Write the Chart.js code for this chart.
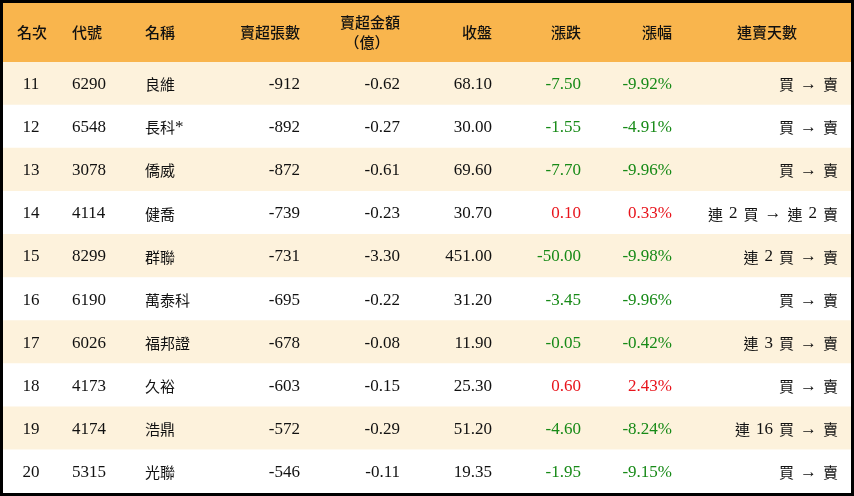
<!DOCTYPE html>
<html><head><meta charset="utf-8">
<script src="https://cdn.jsdelivr.net/npm/chart.js@4/dist/chart.umd.min.js"></script>
<style>html,body{margin:0;padding:0;background:#fff}#w{width:854px;height:496px;position:relative}</style>
</head><body><div id="w"><canvas id="c"></canvas></div>
<script>
const headers = ["名次","代號","名稱","賣超張數","賣超金額\n（億）","收盤","漲跌","漲幅","連賣天數"];
const ranks = ["11","12","13","14","15","16","17","18","19","20"];
const codes = ["6290","6548","3078","4114","8299","6190","6026","4173","4174","5315"];
const names = ["良維","長科*","僑威","健喬","群聯","萬泰科","福邦證","久裕","浩鼎","光聯"];
const netSell = [-912,-892,-872,-739,-731,-695,-678,-603,-572,-546];
const amount = ["-0.62","-0.27","-0.61","-0.23","-3.30","-0.22","-0.08","-0.15","-0.29","-0.11"];
const closeP = ["68.10","30.00","69.60","30.70","451.00","31.20","11.90","25.30","51.20","19.35"];
const change = ["-7.50","-1.55","-7.70","0.10","-50.00","-3.45","-0.05","0.60","-4.60","-1.95"];
const pct = ["-9.92%","-4.91%","-9.96%","0.33%","-9.98%","-9.96%","-0.42%","2.43%","-8.24%","-9.15%"];
const streak = ["買 → 賣","買 → 賣","買 → 賣","連 2 買 → 連 2 賣","連 2 買 → 賣","買 → 賣","連 3 買 → 賣","買 → 賣","連 16 買 → 賣","買 → 賣"];

const cols = [
 {x:31,a:"center"},{x:72,a:"left"},{x:145,a:"left"},{x:300,a:"right"},{x:400,a:"right"},
 {x:492,a:"right"},{x:581,a:"right"},{x:672,a:"right"},{x:838,a:"right"}];
const hdrX = [32,72,145,300,400,492,581,672,767];
const hdrA = ["center","left","left","right","right","right","right","right","center"];
const SERIF = '"Liberation Serif","DejaVu Serif",serif';
const CJK = '"Noto Sans CJK TC","Noto Sans CJK SC",sans-serif';

const tablePlugin = {
 id:'table',
 beforeDraw(chart){
  const ctx=chart.ctx, y=chart.scales.y;
  ctx.save();
  ctx.fillStyle='#f9b54d';
  const top=y.getPixelForValue(0)-(y.getPixelForValue(1)-y.getPixelForValue(0))/2;
  ctx.fillRect(0,0,chart.width,top);
  ctx.restore();
 },
 afterDraw(chart){
  const ctx=chart.ctx, y=chart.scales.y;
  ctx.save();
  ctx.textBaseline='middle';
  ctx.fillStyle='#111';
  ctx.font='500 15px '+CJK;
  headers.forEach((h,i)=>{
   ctx.textAlign=hdrA[i];
   const lines=h.split("\n");
   if(lines.length===1) ctx.fillText(h,hdrX[i],32);
   else { ctx.fillText(lines[0],hdrX[i],22); ctx.textAlign='center'; ctx.fillText(lines[1],367,42); }
  });
  ranks.forEach((r,i)=>{
   const py=y.getPixelForValue(i)+1;
   const vals=[r,codes[i],names[i],String(netSell[i]),amount[i],closeP[i],change[i],pct[i]];
   vals.forEach((v,j)=>{
    ctx.textAlign=cols[j].a;
    ctx.fillStyle='#111';
    if(j>=6) ctx.fillStyle = v.startsWith('-')?'#178a17':'#e8141c';
    ctx.font = (j===2)? '15px '+CJK : '17px '+SERIF;
    if(j===2 && v.endsWith('*')){ ctx.textAlign='left'; ctx.fillText(v.slice(0,-1),cols[j].x,py); const w=ctx.measureText(v.slice(0,-1)).width; ctx.font='17px '+SERIF; ctx.fillText('*',cols[j].x+w,py); }
    else ctx.fillText(v,cols[j].x,py);
   });
   // streak: mixed fonts, right aligned
   const parts=streak[i].split(' ');
   ctx.fillStyle='#111';
   const fontFor=p=>/^[0-9→]+$/.test(p)?'17px '+SERIF:'15px '+CJK;
   let widths=parts.map(p=>{ctx.font=fontFor(p);return ctx.measureText(p).width;});
   const gap=6;
   let total=widths.reduce((a,b)=>a+b,0)+gap*(parts.length-1);
   let x=838-total;
   ctx.textAlign='left';
   parts.forEach((p,k)=>{ctx.font=fontFor(p);ctx.fillText(p,x,py);x+=widths[k]+gap;});
  });
  ctx.strokeStyle='#000'; ctx.lineWidth=3;
  ctx.strokeRect(1.5,1.5,chart.width-3,chart.height-3);
  ctx.restore();
 }
};

new Chart(document.getElementById('c'),{
 type:'bar',
 data:{labels:ranks,datasets:[{data:ranks.map(()=>1),
   backgroundColor:ranks.map((_,i)=>i%2===0?'#fdf2dc':'#ffffff'),
   barPercentage:1,categoryPercentage:1,borderWidth:0}]},
 options:{indexAxis:'y',responsive:true,maintainAspectRatio:false,animation:false,
  layout:{padding:{top:62,bottom:3,left:0,right:0}},
  plugins:{legend:{display:false},tooltip:{enabled:false}},
  scales:{x:{display:false,min:0,max:1},y:{display:false}}},
 plugins:[tablePlugin]
});
</script></body></html>
